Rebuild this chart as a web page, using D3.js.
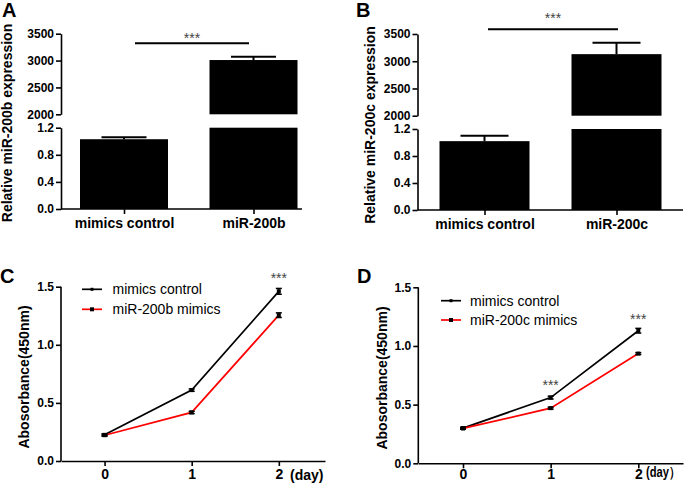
<!DOCTYPE html>
<html><head><meta charset="utf-8">
<script src="https://cdn.jsdelivr.net/npm/d3@7"></script>
<style>body{margin:0;background:#fff}svg{display:block}</style>
</head><body><svg id="c" width="685" height="483"></svg>
<script>
// ---------- DATA ----------
const barCategoriesA = ["mimics control", "miR-200b"];
const barMeansA = [1.03, 3010];
const barErrA = [0.03, 60];
const barCategoriesB = ["mimics control", "miR-200c"];
const barMeansB = [1.02, 3130];
const barErrB = [0.08, 210];
const upperTicks = [2000, 2500, 3000, 3500];
const lowerTicks = [0.0, 0.4, 0.8, 1.2];

const days = [0, 1, 2];
const lineYTicks = [0.0, 0.5, 1.0, 1.5];
const cControl = [0.225, 0.61, 1.46];
const cControlErr = [0.008, 0.01, 0.025];
const cMimics = [0.222, 0.418, 1.255];
const cMimicsErr = [0.008, 0.01, 0.02];
const dControl = [0.30, 0.56, 1.13];
const dControlErr = [0.008, 0.012, 0.02];
const dMimics = [0.297, 0.47, 0.935];
const dMimicsErr = [0.005, 0.008, 0.008];
const seriesNamesC = ["mimics control", "miR-200b mimics"];
const seriesNamesD = ["mimics control", "miR-200c mimics"];
const starDaysC = [2];
const starDaysD = [1, 2];

// ---------- DRAW ----------
const FONT = "'Liberation Sans', Arial, Helvetica, sans-serif";
const svg = d3.select("#c");
svg.append("rect").attr("width", 685).attr("height", 483).attr("fill", "#fff");

function styleAxis(g, fs) {
  g.attr("font-family", FONT);
  g.selectAll("path,line").attr("stroke", "#000").attr("stroke-width", 1.6);
  g.selectAll("text").attr("font-family", FONT).attr("font-weight", "bold")
    .attr("font-size", fs).attr("fill", "#000");
}

function letter(x, y, t) {
  svg.append("text").attr("x", x).attr("y", y).attr("font-family", FONT)
    .attr("font-weight", "bold").attr("font-size", 20).text(t);
}

function yLabel(x, y, t) {
  svg.append("text").attr("transform", `translate(${x},${y}) rotate(-90)`)
    .attr("text-anchor", "middle").attr("font-family", FONT)
    .attr("font-weight", "bold").attr("font-size", 14).text(t);
}

function stars(x, y) {
  svg.append("text").attr("x", x).attr("y", y).attr("text-anchor", "middle")
    .attr("font-family", FONT).attr("font-size", 14).attr("fill", "#444").text("***");
}

function barPanel(p) {
  const g = svg.append("g");
  const upMin = upperTicks[0], upMax = upperTicks[upperTicks.length - 1];
  const lowMin = lowerTicks[0], lowMax = lowerTicks[lowerTicks.length - 1];
  const yUp = d3.scaleLinear().domain([upMin, upMax]).range(p.upRange);
  const yLow = d3.scaleLinear().domain([lowMin, lowMax]).range(p.lowRange);
  const x = d3.scalePoint().domain(p.cats).range(p.centers);

  p.cats.forEach((c, i) => {
    const v = p.means[i], e = p.errs[i], cx = x(c);
    const lowTop = Math.min(v, lowMax);
    g.append("rect").attr("x", cx - p.bw / 2).attr("width", p.bw)
      .attr("y", yLow(lowTop)).attr("height", yLow(0) - yLow(lowTop)).attr("fill", "#000");
    let ys = yLow;
    if (v >= upMin) {
      g.append("rect").attr("x", cx - p.bw / 2).attr("width", p.bw)
        .attr("y", yUp(v)).attr("height", yUp(upMin) - yUp(v)).attr("fill", "#000");
      ys = yUp;
    }
    g.append("line").attr("x1", cx).attr("x2", cx).attr("y1", ys(v)).attr("y2", ys(v + e))
      .attr("stroke", "#000").attr("stroke-width", 2);
    g.append("line").attr("x1", cx - p.cap / 2).attr("x2", cx + p.cap / 2)
      .attr("y1", ys(v + e)).attr("y2", ys(v + e)).attr("stroke", "#000").attr("stroke-width", 2);
  });

  const ga = g.append("g").attr("transform", `translate(${p.axisX},0)`)
    .call(d3.axisLeft(yUp).tickValues(upperTicks).tickSize(5).tickPadding(2)
      .tickSizeOuter(0).tickFormat(d3.format("d")));
  styleAxis(ga, 12);
  const gb = g.append("g").attr("transform", `translate(${p.axisX},0)`)
    .call(d3.axisLeft(yLow).tickValues(lowerTicks).tickSize(5).tickPadding(2)
      .tickSizeOuter(0).tickFormat(d3.format(".1f")));
  styleAxis(gb, 12);
  const gx = g.append("g").attr("transform", `translate(0,${yLow(0)})`)
    .call(d3.axisBottom(x).tickSize(5).tickPadding(4).tickSizeOuter(0));
  gx.select(".domain").attr("d", `M${p.axisX},0H${p.xEnd}`);
  styleAxis(gx, 14);

  // significance
  g.append("line").attr("x1", p.sig[0]).attr("x2", p.sig[1]).attr("y1", p.sig[2]).attr("y2", p.sig[2])
    .attr("stroke", "#000").attr("stroke-width", 2);
  stars((p.sig[0] + p.sig[1]) / 2, p.sig[3]);
  yLabel(p.ylab[0], p.ylab[1], p.ylab[2]);
  letter(p.letter[0], p.letter[1], p.letter[2]);
}

function linePanel(p) {
  const g = svg.append("g");
  const x = d3.scaleLinear().domain(p.xDomain).range([p.axisX, p.xEnd]);
  const y = d3.scaleLinear().domain([lineYTicks[0], lineYTicks[lineYTicks.length - 1]]).range(p.yRange);

  const gy = g.append("g").attr("transform", `translate(${p.axisX},0)`)
    .call(d3.axisLeft(y).tickValues(lineYTicks).tickSize(5).tickPadding(2)
      .tickSizeOuter(0).tickFormat(d3.format(".1f")));
  gy.select(".domain").attr("d", `M0,${y(lineYTicks[lineYTicks.length - 1])}V${p.yRange[0]}`);
  styleAxis(gy, 12);
  const gx = g.append("g").attr("transform", `translate(0,${p.yRange[0]})`)
    .call(d3.axisBottom(x).tickValues(days).tickSize(5).tickPadding(p.xPad)
      .tickSizeOuter(0).tickFormat(d3.format("d")));
  styleAxis(gx, 14);

  const line = d3.line().x((d, i) => x(days[i])).y(d => y(d));
  p.series.forEach(s => {
    g.append("path").attr("d", line(s.vals)).attr("fill", "none")
      .attr("stroke", s.color).attr("stroke-width", 1.7);
  });
  p.series.forEach(s => {
    s.vals.forEach((v, i) => {
      const cx = x(days[i]), e = s.errs[i];
      g.append("line").attr("x1", cx).attr("x2", cx).attr("y1", y(v - e)).attr("y2", y(v + e))
        .attr("stroke", "#000").attr("stroke-width", 1.5);
      [v - e, v + e].forEach(w => g.append("line").attr("x1", cx - 3).attr("x2", cx + 3)
        .attr("y1", y(w)).attr("y2", y(w)).attr("stroke", "#000").attr("stroke-width", 1.5));
      g.append("rect").attr("x", cx - 2).attr("y", y(v) - 2).attr("width", 4).attr("height", 4).attr("fill", "#000");
    });
  });

  // legend
  p.series.forEach((s, i) => {
    const ly = p.legend.y[i];
    g.append("line").attr("x1", p.legend.x0).attr("x2", p.legend.x1).attr("y1", ly).attr("y2", ly)
      .attr("stroke", s.color).attr("stroke-width", 1.7);
    const mx = (p.legend.x0 + p.legend.x1) / 2, ms = i === 0 ? 3 : 4;
    g.append("rect").attr("x", mx - ms / 2).attr("y", ly - ms / 2).attr("width", ms).attr("height", ms).attr("fill", "#000");
    g.append("text").attr("x", p.legend.tx).attr("y", ly + 5).attr("font-family", FONT)
      .attr("font-size", 14).attr("fill", "#000").text(s.name);
  });

  p.stars.forEach((d, i) => stars(x(d), p.starY[i]));
  g.append("text").attr("transform", `translate(${p.day[0]},${p.day[1]}) scale(${p.day[3]},1)`)
    .attr("font-family", FONT).attr("font-weight", "bold").attr("font-size", 14).text(p.day[2]);
  yLabel(p.ylab[0], p.ylab[1], "Abosorbance(450nm)");
  letter(p.letter[0], p.letter[1], p.letter[2]);
}

barPanel({
  cats: barCategoriesA, means: barMeansA, errs: barErrA,
  axisX: 61, upRange: [114.3, 33.7], lowRange: [209, 127.7],
  centers: [124, 253.5], bw: 88, cap: 45, xEnd: 302,
  sig: [135, 249, 43.3, 43], ylab: [12, 123, "Relative miR-200b expression"], letter: [2, 17, "A"]
});
barPanel({
  cats: barCategoriesB, means: barMeansB, errs: barErrB,
  axisX: 417.5, upRange: [115.7, 34], lowRange: [210, 129],
  centers: [484.5, 616.5], bw: 90, cap: 48, xEnd: 683,
  sig: [488, 618, 29.3, 23], ylab: [375, 125, "Relative miR-200c expression"], letter: [356, 17, "B"]
});
linePanel({
  axisX: 61, xEnd: 325, xDomain: [-0.5, 2.53], yRange: [461, 286.7], xPad: 3.5,
  series: [
    { name: seriesNamesC[0], vals: cControl, errs: cControlErr, color: "#000" },
    { name: seriesNamesC[1], vals: cMimics, errs: cMimicsErr, color: "#ff0000" }
  ],
  legend: { x0: 82, x1: 102, tx: 112.5, y: [289.3, 309.3] },
  stars: starDaysC, starY: [283], day: [290, 479.5, "(day)", 1],
  ylab: [29, 377], letter: [0, 283, "C"]
});
linePanel({
  axisX: 418.3, xEnd: 683, xDomain: [-0.51, 2.51], yRange: [463.3, 287.3], xPad: 1,
  series: [
    { name: seriesNamesD[0], vals: dControl, errs: dControlErr, color: "#000" },
    { name: seriesNamesD[1], vals: dMimics, errs: dMimicsErr, color: "#ff0000" }
  ],
  legend: { x0: 441, x1: 461, tx: 470, y: [300.7, 320] },
  stars: starDaysD, starY: [390, 324], day: [646, 477, "(day\uFF09", 0.8],
  ylab: [387, 378], letter: [357, 283, "D"]
});
</script></body></html>
